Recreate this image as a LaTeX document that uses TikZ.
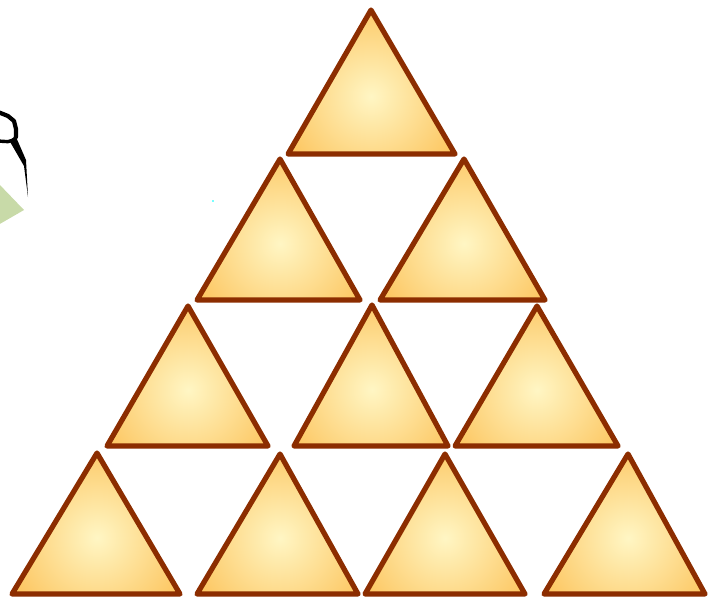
\documentclass[tikz,border=0pt]{standalone}
\begin{document}
\begin{tikzpicture}[x=1pt,y=-1pt]
\definecolor{edge}{RGB}{140,45,0}
\definecolor{ylight}{RGB}{255,246,196}
\definecolor{ydark}{RGB}{252,190,80}
\definecolor{leaf}{RGB}{200,218,168}
\definecolor{speck}{RGB}{120,255,255}
\tikzset{
  tribody/.style={inner color=ylight,outer color=ydark},
  triedge/.style={draw=edge,line width=5.2pt,line join=round}
}
\useasboundingbox (0,0) rectangle (709,599);
% decoration at the top left
\fill[leaf] (-2,183) -- (24,210) -- (-2,225) -- cycle;
\draw[black,line width=4.2pt,line join=round,line cap=round] (-2,112) -- (8,116) -- (14,121) -- (16,129) -- (16,137);
\draw[black,line width=3.4pt,line cap=round] (16,137) .. controls (11,144) and (5,141) .. (-2,141);
\fill[black] (9,140) -- (16,137) -- (26,160) -- (28,197) -- (24,166) -- cycle;
\fill[speck] (212,200) rectangle (214,202);
% triangles
\foreach \ax/\ay/\l/\r/\b [count=\i] in {
  371/10/288/455/154,
  280/159/197/360/300,
  464/159/380/545/300,
  188/306/107/268/446,
  372/305/294/448/446,
  537/306/455/618/446,
  97/453/12/180/594,
  280/454/197/358/594,
  445/454/365/525/594,
  628/454/544/705/594}{
  \begin{scope}
    \clip (\ax,\ay) -- (\r,\b) -- (\l,\b) -- cycle;
    \shade[tribody] (\ax,{\ay+0.6*(\b-\ay)}) circle (112);
  \end{scope}
  \draw[triedge] (\ax,\ay) -- (\r,\b) -- (\l,\b) -- cycle;
}
\end{tikzpicture}
\end{document}
